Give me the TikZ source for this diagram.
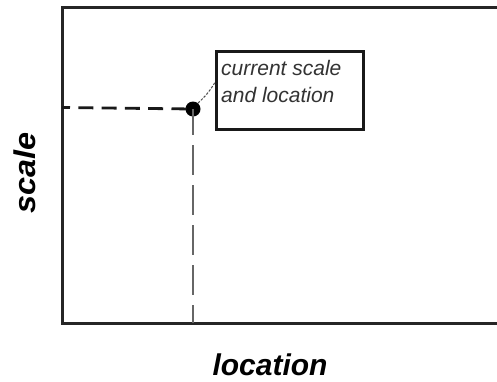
\documentclass[tikz,border=0pt]{standalone}
\usepackage{fontspec}
\setmainfont{Liberation Sans}
\usetikzlibrary{calc}
\begin{document}
\begin{tikzpicture}[x=1pt,y=-1pt,
  framestyle/.style={draw=black!85,line width=3pt},
  hguide/.style={draw=black!90,line width=2.8pt,dash pattern=on 15pt off 8.3pt,dash phase=7pt},
  vguide/.style={draw=black!60,line width=2pt,dash pattern=on 30pt off 10pt,dash phase=4pt},
  leader/.style={draw=black!70,line width=1pt,dash pattern=on 2.5pt off 1.5pt},
  axislabel/.style={font=\fontsize{30}{36}\selectfont\bfseries\itshape,inner sep=0pt},
  notebox/.style={draw=black!90,line width=3pt,minimum width=147pt,minimum height=78pt,inner sep=0pt},
  notetext/.style={font=\fontsize{21}{26.7}\selectfont\itshape,text=black!80,align=left,inner sep=0pt}]
\useasboundingbox (0,0) rectangle (497,381);
\fill[white] (0,0) rectangle (497,381);
% frame
\draw[framestyle] (497,7) -- (62,7) -- (62,323) -- (497,323);
% current point
\node[circle,fill=black,inner sep=0pt,minimum size=15pt] (pt) at (193,109) {};
\coordinate (yax) at (62,107.5);
\coordinate (xax) at (193,323);
\draw[hguide] (yax) -- (pt.center);
\draw[vguide] (pt.center) -- (xax);
% note box
\node[notebox,anchor=north west] (box) at (215,50) {};
\node[notetext,anchor=north west] (note) at (221,60) {current scale\\and location};
\coordinate (lp) at ($(box.north west)!0.4!(box.south west)$);
\draw[leader] (pt.50) to[bend right=8] (lp);
% axis labels
\node[axislabel,rotate=90,anchor=base,xscale=1.08] (ylab) at (35,173) {scale};
\node[axislabel,anchor=base] (xlab) at (270,375) {location};
\end{tikzpicture}
\end{document}
